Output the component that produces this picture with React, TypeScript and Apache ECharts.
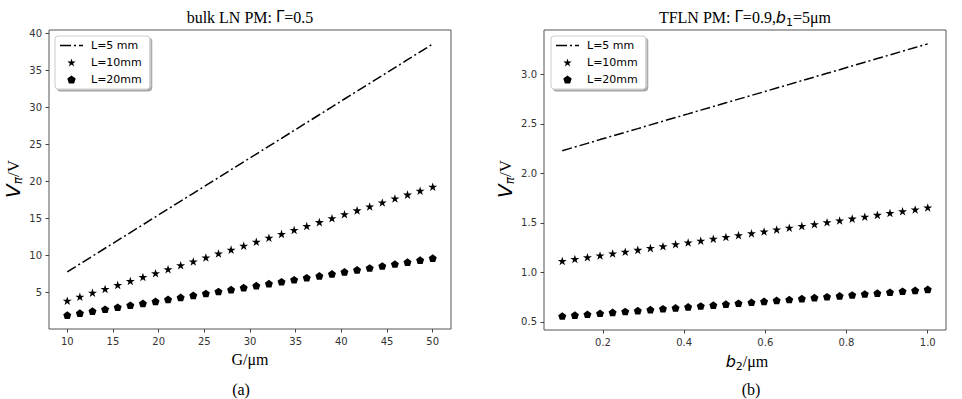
import React, { useEffect, useRef } from "react";
import * as echarts from "echarts";

// ---- data ----
const gapG = [10, 11.38, 12.76, 14.14, 15.52, 16.9, 18.28, 19.66, 21.03, 22.41, 23.79, 25.17, 26.55, 27.93, 29.31, 30.69, 32.07, 33.45, 34.83, 36.21, 37.59, 38.97, 40.34, 41.72, 43.1, 44.48, 45.86, 47.24, 48.62, 50];
const bulkL5 = [7.8, 8.86, 9.92, 10.99, 12.05, 13.11, 14.17, 15.23, 16.3, 17.36, 18.42, 19.48, 20.54, 21.61, 22.67, 23.73, 24.79, 25.86, 26.92, 27.98, 29.04, 30.1, 31.17, 32.23, 33.29, 34.35, 35.41, 36.48, 37.54, 38.6];
const bulkL10 = [3.9, 4.43, 4.96, 5.49, 6.02, 6.56, 7.09, 7.62, 8.15, 8.68, 9.21, 9.74, 10.27, 10.8, 11.33, 11.87, 12.4, 12.93, 13.46, 13.99, 14.52, 15.05, 15.58, 16.11, 16.64, 17.18, 17.71, 18.24, 18.77, 19.3];
const bulkL20 = [1.95, 2.22, 2.48, 2.75, 3.01, 3.28, 3.54, 3.81, 4.07, 4.34, 4.61, 4.87, 5.14, 5.4, 5.67, 5.93, 6.2, 6.46, 6.73, 7.0, 7.26, 7.53, 7.79, 8.06, 8.32, 8.59, 8.85, 9.12, 9.38, 9.65];

const widthB2 = [0.1, 0.131, 0.162, 0.193, 0.224, 0.255, 0.286, 0.317, 0.348, 0.379, 0.41, 0.441, 0.472, 0.503, 0.534, 0.566, 0.597, 0.628, 0.659, 0.69, 0.721, 0.752, 0.783, 0.814, 0.845, 0.876, 0.907, 0.938, 0.969, 1.0];
const tflnL5 = [2.23, 2.267, 2.304, 2.342, 2.379, 2.416, 2.453, 2.491, 2.528, 2.565, 2.602, 2.64, 2.677, 2.714, 2.751, 2.789, 2.826, 2.863, 2.9, 2.938, 2.975, 3.012, 3.049, 3.087, 3.124, 3.161, 3.198, 3.236, 3.273, 3.31];
const tflnL10 = [1.115, 1.134, 1.152, 1.171, 1.19, 1.208, 1.227, 1.245, 1.264, 1.283, 1.301, 1.32, 1.339, 1.357, 1.376, 1.394, 1.413, 1.432, 1.45, 1.469, 1.487, 1.506, 1.525, 1.543, 1.562, 1.581, 1.599, 1.618, 1.636, 1.655];
const tflnL20 = [0.558, 0.567, 0.576, 0.586, 0.595, 0.604, 0.613, 0.623, 0.632, 0.641, 0.651, 0.66, 0.669, 0.679, 0.688, 0.697, 0.706, 0.716, 0.725, 0.734, 0.744, 0.753, 0.762, 0.771, 0.781, 0.79, 0.799, 0.809, 0.818, 0.828];

const seriesNames = ["L=5 mm", "L=10mm", "L=20mm"];
const xTicksA = [10, 15, 20, 25, 30, 35, 40, 45, 50];
const yTicksA = [5, 10, 15, 20, 25, 30, 35, 40];
const xTicksB = [0.2, 0.4, 0.6, 0.8, 1.0];
const yTicksB = [0.5, 1.0, 1.5, 2.0, 2.5, 3.0];

const STAR = "path://M0 -1 L0.2245 -0.309 L0.951 -0.309 L0.363 0.118 L0.588 0.809 L0 0.382 L-0.588 0.809 L-0.363 0.118 L-0.951 -0.309 L-0.2245 -0.309 Z";
const PENTA = "path://M0 -1 L0.951 -0.309 L0.588 0.809 L-0.588 0.809 L-0.951 -0.309 Z";
const DASHDOT = "path://M0 0 L11 0 L11 1.5 L0 1.5 Z M14 0 L16 0 L16 1.5 L14 1.5 Z M19 0 L23 0 L23 1.5 L19 1.5 Z";

const SERIF = "Liberation Serif";
const SANS = "DejaVu Sans";

const pairs = (xs: number[], ys: number[]) => xs.map((x, i) => [x, ys[i]]);

function makeAxes(idx: number, xmin: number, xmax: number, ymin: number, ymax: number, xt: number[], yt: number[], fmt: (v: number) => string) {
  const tick = { show: true, length: 3.5, lineStyle: { color: "#444", width: 1 } };
  const label = { color: "#333", fontSize: 10, fontFamily: SANS };
  return {
    x: {
      type: "value", gridIndex: idx, min: xmin, max: xmax,
      axisLine: { show: false }, splitLine: { show: false },
      axisTick: { ...tick, customValues: xt },
      axisLabel: { ...label, margin: 7, customValues: xt, formatter: fmt },
    },
    y: {
      type: "value", gridIndex: idx, min: ymin, max: ymax,
      axisLine: { show: false }, splitLine: { show: false },
      axisTick: { ...tick, customValues: yt },
      axisLabel: { ...label, margin: 7, customValues: yt, formatter: fmt },
    },
  };
}

export default function App() {
  const ref = useRef<HTMLDivElement>(null);
  useEffect(() => {
    if (!ref.current) return;
    const chart = echarts.init(ref.current, undefined, { renderer: "svg" });
    const a = makeAxes(0, 8, 52, 0.07, 40.5, xTicksA, yTicksA, (v) => String(v));
    const b = makeAxes(1, 0.055, 1.045, 0.417, 3.45, xTicksB, yTicksB, (v) => v.toFixed(1));

    const lineS = (name: string, xi: number, data: number[][]) => ({
      name, type: "line", xAxisIndex: xi, yAxisIndex: xi, data, symbol: "none",
      lineStyle: { color: "#000", width: 1.5, type: [10, 3, 2, 3] }, itemStyle: { color: "#000" },
    });
    const scat = (name: string, xi: number, data: number[][], sym: string, size: number[]) => ({
      name, type: "scatter", xAxisIndex: xi, yAxisIndex: xi, data, symbol: sym, symbolSize: size,
      symbolKeepAspect: true, itemStyle: { color: "#000", opacity: 1 },
    });

    const legendBase = {
      orient: "vertical", top: 36, itemWidth: 23, itemHeight: 8, itemGap: 6,
      padding: [4, 8, 4, 5], backgroundColor: "#fff", borderColor: "#ccc", borderWidth: 1, borderRadius: 3,
      shadowColor: "rgba(0,0,0,0.35)", shadowOffsetX: 2, shadowOffsetY: 2, shadowBlur: 1,
      textStyle: { fontSize: 11, fontFamily: SANS, color: "#000", padding: [0, 0, 0, 3] },
      data: [
        { name: seriesNames[0], icon: DASHDOT, itemStyle: { color: "#000" } },
        { name: seriesNames[1] },
        { name: seriesNames[2] },
      ],
      selectedMode: false,
    };

    const serifText = (x: number, y: number, rich: any, text: string, rotation = 0) => ({
      type: "text", x, y, rotation,
      style: { text, rich, align: "center", verticalAlign: "middle", font: `16px "${SERIF}"`, fill: "#000" },
    });
    const rich = {
      s: { fontFamily: SERIF, fontSize: 16, lineHeight: 22, color: "#000" },
      g: { fontFamily: SANS, fontSize: 15, lineHeight: 22, color: "#000" },
      i: { fontFamily: SANS, fontSize: 16, fontStyle: "italic", lineHeight: 22, color: "#000" },
      vi: { fontFamily: SANS, fontSize: 20, fontStyle: "italic", lineHeight: 22, color: "#000" },
      sub: { fontFamily: SANS, fontSize: 11, lineHeight: 13, verticalAlign: "bottom", color: "#000" },
      subi: { fontFamily: SANS, fontSize: 12, fontStyle: "italic", lineHeight: 13, verticalAlign: "bottom", color: "#000" },
      sl: { fontFamily: SERIF, fontSize: 17, lineHeight: 22, color: "#000" },
    };

    chart.setOption({
      animation: false,
      backgroundColor: "#fff",
      grid: [
        { left: 49, top: 30, width: 402, height: 299, show: true, borderColor: "#555", borderWidth: 1, backgroundColor: "transparent" },
        { left: 544, top: 30, width: 402, height: 300, show: true, borderColor: "#555", borderWidth: 1, backgroundColor: "transparent" },
      ],
      xAxis: [a.x, b.x],
      yAxis: [a.y, b.y],
      legend: [
        { ...legendBase, left: 55 },
        { ...legendBase, left: 551 },
      ],
      series: [
        lineS(seriesNames[0], 0, pairs(gapG, bulkL5)),
        scat(seriesNames[1], 0, pairs(gapG, bulkL10), STAR, [9, 9]),
        scat(seriesNames[2], 0, pairs(gapG, bulkL20), PENTA, [8, 8]),
        lineS(seriesNames[0], 1, pairs(widthB2, tflnL5)),
        scat(seriesNames[1], 1, pairs(widthB2, tflnL10), STAR, [9, 9]),
        scat(seriesNames[2], 1, pairs(widthB2, tflnL20), PENTA, [8, 8]),
      ],
      graphic: [
        serifText(250, 17, rich, "{s|bulk LN PM: }{g|Γ}{s|=0.5}"),
        serifText(745, 17, rich, "{s|TFLN PM: }{g|Γ}{s|=0.9,}{i|b}{sub|1}{s|=5μm}"),
        serifText(250, 359, rich, "{s|G/μm}"),
        serifText(241, 389, rich, "{s|(a)}"),
        serifText(747, 361, rich, "{i|b}{sub|2}{s|/μm}"),
        serifText(751, 389, rich, "{s|(b)}"),
        serifText(13, 179, rich, "{vi|V}{subi|π}{sl|/V}", Math.PI / 2),
        serifText(505, 179, rich, "{vi|V}{subi|π}{sl|/V}", Math.PI / 2),
      ],
    });
    return () => chart.dispose();
  }, []);
  return (
    <div
      ref={ref}
      style={{ position: "fixed", left: 0, top: 0, width: 962, height: 399, background: "#fff" }}
    />
  );
}
